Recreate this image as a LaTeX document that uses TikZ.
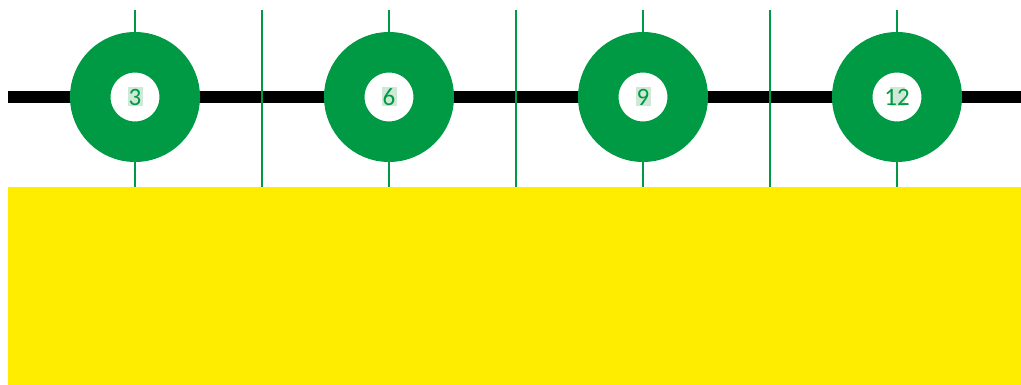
\documentclass[tikz,border=0pt]{standalone}
\usepackage{fontspec}
\setsansfont{Carlito}
\usetikzlibrary{positioning}
\definecolor{dlgreen} {HTML}{009A44}
\definecolor{dlpale}  {HTML}{CFE8D7}
\definecolor{dlyellow}{HTML}{FFED00}
\tikzset{
  dlring/.style={circle, draw=dlgreen, line width=40.5pt, fill=white,
                 minimum size=89.5pt, inner sep=0pt},
  dlnum/.style={font=\sffamily\fontsize{25}{25}\selectfont, text=dlgreen,
                inner sep=0pt},
  dlmark/.style={fill=dlpale, minimum width=15pt, minimum height=19pt,
                 inner sep=0pt},
  dltick/.style={draw=dlgreen, line width=2pt},
  dltrack/.style={draw=black, line width=12.5pt},
}
\begin{document}
\begin{tikzpicture}[x=1pt,y=-1pt]
  \useasboundingbox (0,0) rectangle (1021,385);
  \coordinate (trackw) at (8,97);
  \coordinate (tracke) at (1021,97);
  \draw[dltrack] (trackw) -- (tracke);

  \foreach \i in {0,...,6}
    {\coordinate (top\i) at ({135+127*\i},10);
     \coordinate (bot\i) at ({135+127*\i},187);
     \draw[dltick] (top\i) -- (bot\i);}

  \fill[dlyellow] (8,187) rectangle (1021,385);

  \foreach \n/\j in {3/0,6/1,9/2,12/3}
    {\node[dlring] (ring\n) at ({135+254*\j},97) {};
     \node[dlmark] (mark\n) at (ring\n.center) {};
     \node[dlnum] (num\n) at (ring\n.center) {\n};}
\end{tikzpicture}
\end{document}
